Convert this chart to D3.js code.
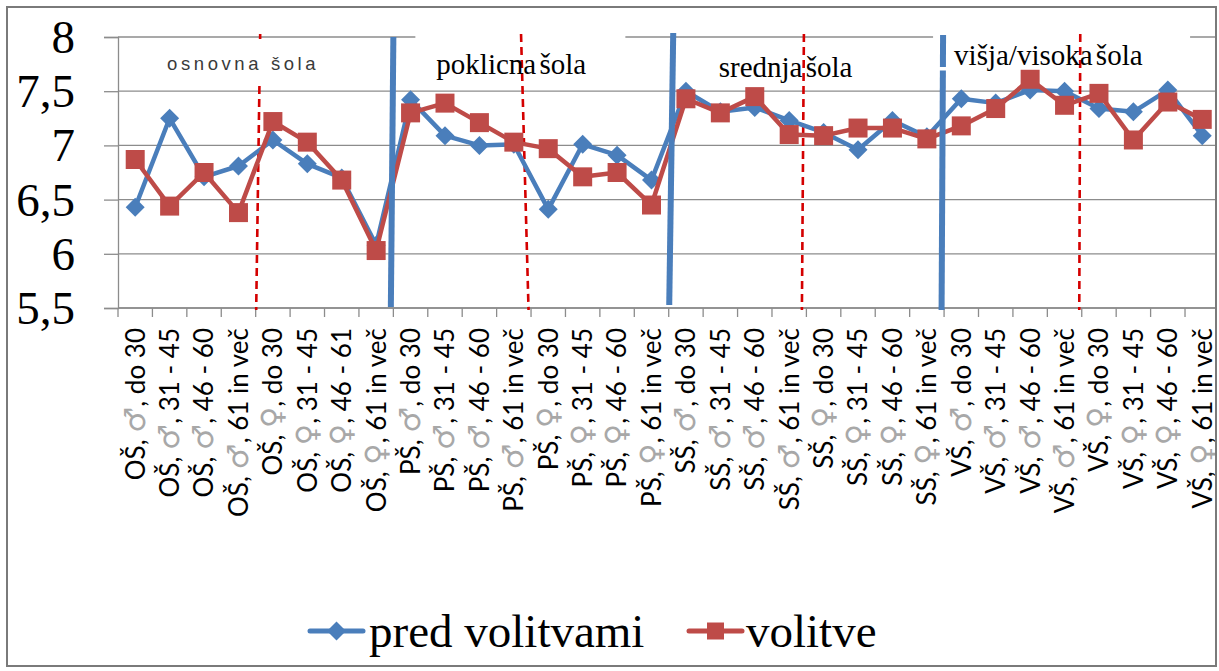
<!DOCTYPE html>
<html>
<head>
<meta charset="utf-8">
<script src="https://cdn.jsdelivr.net/npm/d3@7"></script>
<style>
  body { margin: 0; background: #fff; }
  svg { display: block; }
  .serif { font-family: "Liberation Serif", "Times New Roman", serif; }
  .sans { font-family: "Liberation Sans", Arial, sans-serif; }
  .cat { font-family: "Lato", "Open Sans", sans-serif; }
  .sym { font-family: "DejaVu Sans", sans-serif; font-size: 1.12em; }
</style>
</head>
<body>
<svg id="chart" width="1219" height="671"></svg>
<script>
// ---- data -------------------------------------------------------------
const categories = [
  "OŠ, ♂, do 30", "OŠ, ♂, 31 - 45", "OŠ, ♂, 46 - 60", "OŠ, ♂, 61 in več",
  "OŠ, ♀, do 30", "OŠ, ♀, 31 - 45", "OŠ, ♀, 46 - 61", "OŠ, ♀, 61 in več",
  "PŠ, ♂, do 30", "PŠ, ♂, 31 - 45", "PŠ, ♂, 46 - 60", "PŠ, ♂, 61 in več",
  "PŠ, ♀, do 30", "PŠ, ♀, 31 - 45", "PŠ, ♀, 46 - 60", "PŠ, ♀, 61 in več",
  "SŠ, ♂, do 30", "SŠ, ♂, 31 - 45", "SŠ, ♂, 46 - 60", "SŠ, ♂, 61 in več",
  "SŠ, ♀, do 30", "SŠ, ♀, 31 - 45", "SŠ, ♀, 46 - 60", "SŠ, ♀, 61 in več",
  "VŠ, ♂, do 30", "VŠ, ♂, 31 - 45", "VŠ, ♂, 46 - 60", "VŠ, ♂, 61 in več",
  "VŠ, ♀, do 30", "VŠ, ♀, 31 - 45", "VŠ, ♀, 46 - 60", "VŠ, ♀, 61 in več"
];
const predVolitvami = [
  6.43, 7.25, 6.71, 6.81, 7.05, 6.83, 6.70, 6.08,
  7.42, 7.09, 7.00, 7.01, 6.41, 7.01, 6.91, 6.68,
  7.50, 7.31, 7.35, 7.23, 7.12, 6.96, 7.23, 7.08,
  7.43, 7.39, 7.51, 7.50, 7.34, 7.31, 7.51, 7.09
];
const volitve = [
  6.87, 6.44, 6.75, 6.38, 7.22, 7.03, 6.68, 6.03,
  7.30, 7.39, 7.21, 7.03, 6.97, 6.71, 6.75, 6.45,
  7.43, 7.30, 7.45, 7.10, 7.09, 7.16, 7.16, 7.06,
  7.18, 7.34, 7.61, 7.37, 7.48, 7.05, 7.40, 7.24
];
const yTicks = [5.5, 6, 6.5, 7, 7.5, 8];
const yTickLabels = ["5,5", "6", "6,5", "7", "7,5", "8"];
const seriesNames = ["pred volitvami", "volitve"];
const schoolNames = ["osnovna šola", "poklicna šola", "srednja šola", "višja/visoka šola"];
// category index where each school block and each gender half begins
const schoolStarts = [8, 16, 24];
const genderStarts = [4, 12, 20, 28];

// ---- layout -----------------------------------------------------------
const W = 1219, H = 671;
const plot = { left: 118, top: 37, bottom: 308, step: 34.42 };
const BLUE = "#4a7ebb", RED = "#be4b48", GRID = "#8c8c8c";

const svg = d3.select("#chart");

svg.append("defs").append("clipPath").attr("id", "frameClip")
  .append("rect").attr("x", 7).attr("y", 7).attr("width", 1209).attr("height", 659);

const x = d3.scaleBand()
  .domain(categories)
  .range([plot.left, plot.left + plot.step * categories.length])
  .paddingInner(0).paddingOuter(0);
const y = d3.scaleLinear().domain([5.5, 8]).range([plot.bottom, plot.top]);
const cx = c => x(c) + x.bandwidth() / 2;
const edge = i => plot.left + x.step() * i;

const g = svg.append("g").attr("clip-path", "url(#frameClip)");

// y axis with gridlines
const yAxis = d3.axisLeft(y).tickValues(yTicks).tickSize(14).tickFormat("");
const yg = g.append("g").attr("transform", `translate(${plot.left},0)`).call(yAxis);
yg.select(".domain").attr("stroke", GRID).attr("stroke-width", 1.3);
yg.selectAll(".tick line").attr("stroke", GRID).attr("stroke-width", 1.3);
g.append("g").selectAll("line").data(yTicks).join("line")
  .attr("x1", plot.left).attr("x2", W)
  .attr("y1", d => y(d)).attr("y2", d => y(d))
  .attr("stroke", GRID).attr("stroke-width", 1.3);

svg.append("g").selectAll("text").data(yTicks).join("text")
  .attr("class", "serif")
  .attr("x", 75).attr("y", d => y(d) + 16)
  .attr("text-anchor", "end")
  .attr("font-size", 47).attr("fill", "#000")
  .text((d, i) => yTickLabels[i]);

// x axis: ticks at category boundaries
const xg = g.append("g").attr("transform", `translate(0,${plot.bottom})`);
xg.append("line").attr("x1", plot.left).attr("x2", W).attr("y1", 0).attr("y2", 0)
  .attr("stroke", GRID).attr("stroke-width", 1.3);
xg.selectAll("line.tk").data(d3.range(categories.length + 1)).join("line")
  .attr("class", "tk")
  .attr("x1", i => edge(i)).attr("x2", i => edge(i))
  .attr("y1", 0).attr("y2", 9)
  .attr("stroke", GRID).attr("stroke-width", 1.3);

// rotated category labels; gender sign drawn in light grey
const lab = svg.append("g").selectAll("text").data(categories).join("text")
  .attr("class", "cat")
  .attr("transform", c => `translate(${cx(c)},${plot.bottom + 20}) rotate(-90)`)
  .attr("dy", "0.36em")
  .attr("text-anchor", "end")
  .attr("font-size", 26).attr("fill", "#000");
lab.each(function (c) {
  const parts = c.split(/([♂♀])/);
  const t = d3.select(this);
  parts.forEach(p => {
    const sp = t.append("tspan").text(p);
    if (p === "♂" || p === "♀") sp.attr("class", "sym").attr("fill", "#a8a8a8");
  });
});

// white label boxes behind the school names
const boxes = [
  { x0: edge(8) + 22, x1: edge(8) + 232, y0: 29, y1: 84 },
  { x0: edge(24) - 11, x1: edge(24) + 246, y0: 29, y1: 64 }
];
g.append("g").selectAll("rect").data(boxes).join("rect")
  .attr("x", d => d.x0).attr("y", d => d.y0)
  .attr("width", d => d.x1 - d.x0).attr("height", d => d.y1 - d.y0)
  .attr("fill", "#fff");

// red dashed lines between gender halves
const redSkew = [[4.5, 0.5], [-10, -2.5], [-2.5, -4.5], [-1.5, -2.5]];
g.append("g").selectAll("line").data(genderStarts).join("line")
  .attr("x1", (d, i) => edge(d) + redSkew[i][0]).attr("x2", (d, i) => edge(d) + redSkew[i][1])
  .attr("y1", plot.top - 3).attr("y2", plot.bottom + 2)
  .attr("stroke", "#d40000").attr("stroke-width", 2.6)
  .attr("stroke-dasharray", "8,5");

// box that hides the first red dashed line behind "osnovna šola"
g.append("rect").attr("x", edge(1) + 30).attr("y", 39)
  .attr("width", 170).attr("height", 44).attr("fill", "#fff");

// school names
const schoolLabel = [
  { x: edge(0) + 49, y: 69.5, serif: false },
  { x: edge(8) + 43, y: 73.5, serif: true },
  { x: edge(16) + 50, y: 77, serif: true },
  { x: edge(24) + 10, y: 65, serif: true }
];
svg.append("g").selectAll("text").data(schoolNames).join("text")
  .attr("class", (d, i) => schoolLabel[i].serif ? "serif" : "sans")
  .attr("x", (d, i) => schoolLabel[i].x).attr("y", (d, i) => schoolLabel[i].y)
  .attr("font-size", (d, i) => schoolLabel[i].serif ? 29 : 18.5)
  .attr("letter-spacing", (d, i) => schoolLabel[i].serif ? 0 : 3.6)
  .attr("word-spacing", (d, i) => schoolLabel[i].serif ? -4 : 0)
  .attr("fill", (d, i) => schoolLabel[i].serif ? "#000" : "#3a3a3a")
  .text(d => d);

// series
const diamond = r => `M0,${-r}L${r},0L0,${r}L${-r},0Z`;
const square = s => `M${-s / 2},${-s / 2}h${s}v${s}h${-s}Z`;
const line = d3.line().x((d, i) => cx(categories[i])).y(d => y(d));

const series = [
  { name: seriesNames[0], values: predVolitvami, color: BLUE, marker: diamond(9.5) },
  { name: seriesNames[1], values: volitve, color: RED, marker: square(19) }
];
series.forEach(s => {
  const sg = g.append("g");
  sg.append("path").attr("d", line(s.values))
    .attr("fill", "none").attr("stroke", s.color)
    .attr("stroke-width", 4.5).attr("stroke-linejoin", "round");
  sg.selectAll("path.m").data(s.values).join("path").attr("class", "m")
    .attr("d", s.marker)
    .attr("transform", (d, i) => `translate(${cx(categories[i])},${y(d)})`)
    .attr("fill", s.color);
});

// thick blue separators between school blocks
const blueSkew = [[0, -2.5], [4.5, 0.5], [-1, -2.5]];
const blueSpan = [[37, 307], [33, 305], [35, 310]];
g.append("g").selectAll("line").data(schoolStarts).join("line")
  .attr("x1", (d, i) => edge(d) + blueSkew[i][0]).attr("x2", (d, i) => edge(d) + blueSkew[i][1])
  .attr("y1", (d, i) => blueSpan[i][0]).attr("y2", (d, i) => blueSpan[i][1])
  .attr("stroke", BLUE).attr("stroke-width", 6);
g.append("rect").attr("x", edge(24) - 6).attr("y", 67).attr("width", 10).attr("height", 3.5).attr("fill", "#fff");

// legend
const lg = svg.append("g");
const legendItems = [
  { x0: 310, x1: 363, tx: 369, s: series[0] },
  { x0: 689, x1: 742, tx: 746, s: series[1] }
];
legendItems.forEach(it => {
  lg.append("line").attr("x1", it.x0).attr("x2", it.x1).attr("y1", 631).attr("y2", 631)
    .attr("stroke", it.s.color).attr("stroke-width", 5).attr("stroke-linecap", "round");
  lg.append("path").attr("d", it.s === series[0] ? diamond(9.5) : square(17))
    .attr("transform", `translate(${(it.x0 + it.x1) / 2},631)`).attr("fill", it.s.color);
  lg.append("text").attr("class", "serif").attr("x", it.tx).attr("y", 647)
    .attr("font-size", 47).attr("fill", "#000").text(it.s.name);
});

// outer frame
svg.append("rect").attr("x", 7).attr("y", 7).attr("width", 1209).attr("height", 659)
  .attr("fill", "none").attr("stroke", "#7a7a7a").attr("stroke-width", 2);
</script>
</body>
</html>
